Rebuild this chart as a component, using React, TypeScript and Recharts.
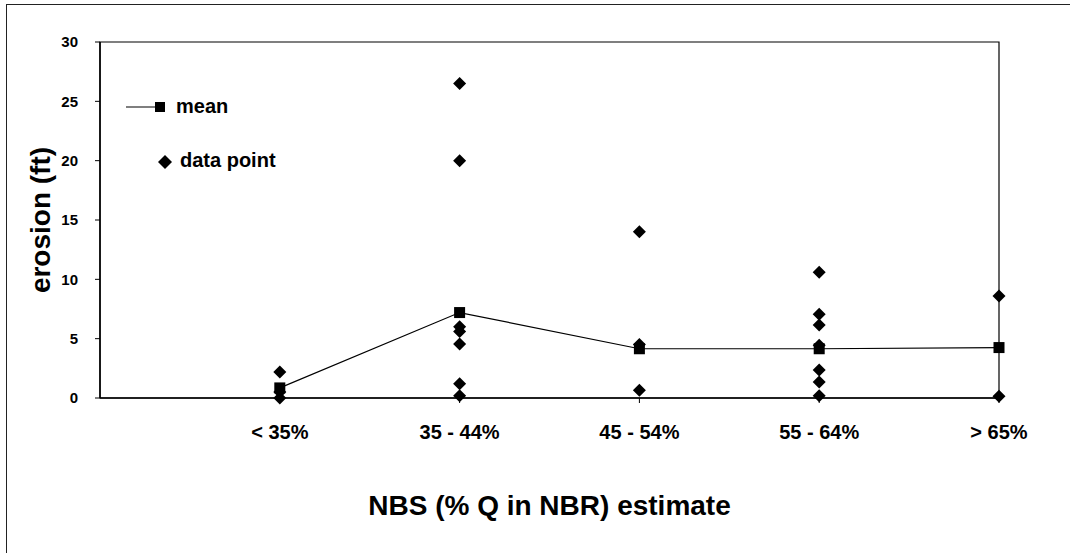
import { ScatterChart, Scatter, XAxis, YAxis, ReferenceArea } from "recharts";

const categories = ["< 35%", "35 - 44%", "45 - 54%", "55 - 64%", "> 65%"];
const meanValues = [0.85, 7.2, 4.15, 4.15, 4.25];
const pointsLt35 = [2.2, 0.5, 0];
const points35to44 = [26.5, 20, 6.0, 5.6, 4.55, 1.2, 0.2];
const points45to54 = [14, 4.5, 0.65];
const points55to64 = [10.6, 7.05, 6.15, 4.45, 2.35, 1.35, 0.2];
const pointsGt65 = [8.6, 0.15];
const yTicks = [0, 5, 10, 15, 20, 25, 30];
const xTicks = [1, 2, 3, 4, 5];

const pointGroups = [pointsLt35, points35to44, points45to54, points55to64, pointsGt65];

const meanData = meanValues.map((v, i) => ({ x: i + 1, y: v }));
const pointData = pointGroups.flatMap((vals, i) => vals.map((v) => ({ x: i + 1, y: v })));

const FONT = "Arial, 'Liberation Sans', sans-serif";

const Diamond = (props: any) => {
  const { cx, cy } = props;
  const r = 6.5;
  return <polygon points={`${cx},${cy - r} ${cx + r},${cy} ${cx},${cy + r} ${cx - r},${cy}`} fill="#000" />;
};

const Square = (props: any) => {
  const { cx, cy } = props;
  const s = 11;
  return <rect x={cx - s / 2} y={cy - s / 2} width={s} height={s} fill="#000" />;
};

// legend drawn beside the chart so it doesn't eat plot space
const ChartLegend = () => (
  <div style={{ position: "absolute", left: 0, top: 0, width: 300, height: 200, fontFamily: FONT, fontWeight: "bold", fontSize: 20, color: "#000" }}>
    <svg style={{ position: "absolute", left: 124, top: 99 }} width={44} height={16}>
      <line x1={2} y1={8} x2={36} y2={8} stroke="#000" strokeWidth={1.2} />
      <rect x={31} y={3} width={10} height={10} fill="#000" />
    </svg>
    <span style={{ position: "absolute", left: 176, top: 94, lineHeight: "24px" }}>mean</span>
    <svg style={{ position: "absolute", left: 157, top: 154 }} width={16} height={16}>
      <polygon points="8,1 15,8 8,15 1,8" fill="#000" />
    </svg>
    <span style={{ position: "absolute", left: 180, top: 148, lineHeight: "24px" }}>data point</span>
  </div>
);

export default function App() {
  return (
    <div style={{ position: "absolute", left: 0, top: 0, width: 1070, height: 553, overflow: "hidden", background: "#fff" }}>
      <div style={{ position: "absolute", left: 6, top: 4, width: 1100, height: 600, borderLeft: "1.5px solid #222", borderTop: "1.5px solid #222" }} />
      <ScatterChart width={1070} height={553} margin={{ top: 42, right: 71, left: 20, bottom: 25 }}>
        <XAxis
          type="number"
          dataKey="x"
          domain={[0, 5]}
          ticks={xTicks}
          tickFormatter={(v) => categories[v - 1] ?? ""}
          height={130}
          axisLine={{ stroke: "#000", strokeWidth: 1.5 }}
          tickLine={{ stroke: "#000" }}
          tickSize={5}
          tickMargin={22}
          tick={{ fontSize: 20, fontWeight: "bold", fill: "#000", fontFamily: FONT }}
          label={{ value: "NBS (% Q in NBR) estimate", position: "insideBottom", offset: 13, style: { fontSize: 28, fontWeight: "bold", fill: "#000", fontFamily: FONT } }}
        />
        <YAxis
          type="number"
          dataKey="y"
          domain={[0, 30]}
          ticks={yTicks}
          width={80}
          axisLine={{ stroke: "#000", strokeWidth: 1.5 }}
          tickLine={{ stroke: "#000" }}
          tickSize={5}
          tickMargin={17}
          tick={{ fontSize: 15, fontWeight: "bold", fill: "#000", fontFamily: FONT }}
          label={{ value: "erosion (ft)", angle: -90, position: "insideLeft", offset: 20, style: { textAnchor: "middle", fontSize: 28, fontWeight: "bold", fill: "#000", fontFamily: FONT } }}
        />
        <ReferenceArea x1={0} x2={5} y1={0} y2={30} fill="none" stroke="#000" strokeWidth={1.2} />
        <Scatter name="data point" data={pointData} shape={Diamond} isAnimationActive={false} />
        <Scatter
          name="mean"
          data={meanData}
          shape={Square}
          line={{ stroke: "#000", strokeWidth: 1.2 }}
          isAnimationActive={false}
        />
      </ScatterChart>
      <ChartLegend />
    </div>
  );
}
